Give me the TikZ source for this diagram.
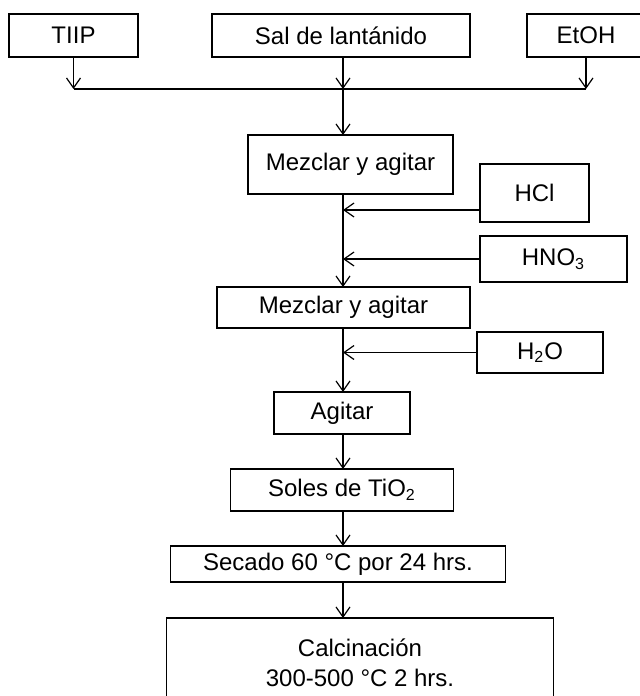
\documentclass[tikz,border=0pt]{standalone}
\usepackage{fontspec}
\setmainfont{Liberation Sans}
\usetikzlibrary{positioning,arrows.meta}

\begin{document}
\begin{tikzpicture}[x=1pt,y=1pt,line width=.6pt,
                    >={Straight Barb[length=5pt,width=7pt]},
                    basebox/.style={draw,inner sep=0pt,outer sep=0pt,font={\fontsize{12}{15}\selectfont}},
                    inputbox/.style={basebox,minimum height=21.5pt},
                    stepbox/.style={basebox,minimum height=21pt}]
  \useasboundingbox (0,0) rectangle (320,-348);
  \node[inputbox,minimum width=64.5pt] (tiip) at (36.75,-17.75) {TIIP};
  \node[inputbox,minimum width=129pt] (sal) at (170.5,-17.75) {Sal de lantánido};
  \node[inputbox,minimum width=59pt] (etoh) at (293,-17.75) {EtOH};
  \node[coordinate] (mix) [below=16pt of sal,xshift=1pt] {};
  \node[coordinate] at (tiip |- mix) (mix-l) {};
  \node[coordinate] at (etoh |- mix) (mix-r) {};
  \node[stepbox,minimum width=102.5pt,minimum height=29.5pt] (mix-1) [below=39pt of sal,xshift=4.75pt] {Mezclar y agitar};
  \node[inputbox,minimum width=54.5pt,minimum height=29pt] (hcl) [right=13.5pt of mix-1,yshift=-14.25pt] {HCl};
  \node[inputbox,minimum width=73.5pt,minimum height=23pt] (hno3) [below=7pt of hcl.south west,anchor=north west] {HNO\textsubscript{3}};
  \node[stepbox,minimum width=126.5pt,minimum height=20.5pt] (mix-2) [below=46.5pt of mix-1,xshift=-3.5pt] {Mezclar y agitar};
  \node[inputbox,minimum width=63pt,minimum height=20.5pt] (h2o) [below right=2pt and 3.5pt of mix-2.south east] {H\textsubscript{2}O};
  \node[stepbox,minimum width=68pt] (agitate) [below=32pt of mix-2,xshift=-.75pt] {Agitar};
  \node[stepbox,minimum width=111.5pt] (sols) [below=17.5pt of agitate] {Soles de TiO\textsubscript{2}};
  \node[stepbox,minimum width=167.5pt,minimum height=18pt] (drying) [below=17.5pt of sols,xshift=-2pt] {Secado 60 °C por 24 hrs.};
  \node[stepbox,minimum width=193.5pt,minimum height=45pt,align=center] (calcination) [below=18pt of drying,xshift=11pt] {Calcinación\\300-500 °C 2 hrs.};
  \draw[->] (tiip) -- (mix-l);
  \draw[->] (sal.south -| mix) -- (mix);
  \draw[->] (etoh) -- (mix-r);
  \draw (mix-l) -- (mix-r);
  \draw[->] (mix) -- (mix-1.north -| mix);
  \draw[->] (mix-1.south -| mix) -- (mix-2.north -| mix);
  \draw[->] ([yshift=-8.5pt]hcl.west) -- ([yshift=-8.5pt]hcl.west -| mix);
  \draw[->] (hno3.west) -- (hno3.west -| mix);
  \draw[->] (h2o.west) -- (h2o.west -| mix);
  \draw[->] (mix-2.south -| mix) -- (agitate.north -| mix);
  \draw[->] (agitate.south -| mix) -- (sols.north -| mix);
  \draw[->] (sols.south -| mix) -- (drying.north -| mix);
  \draw[->] (drying.south -| mix) -- (calcination.north -| mix);
\end{tikzpicture}
\end{document}
